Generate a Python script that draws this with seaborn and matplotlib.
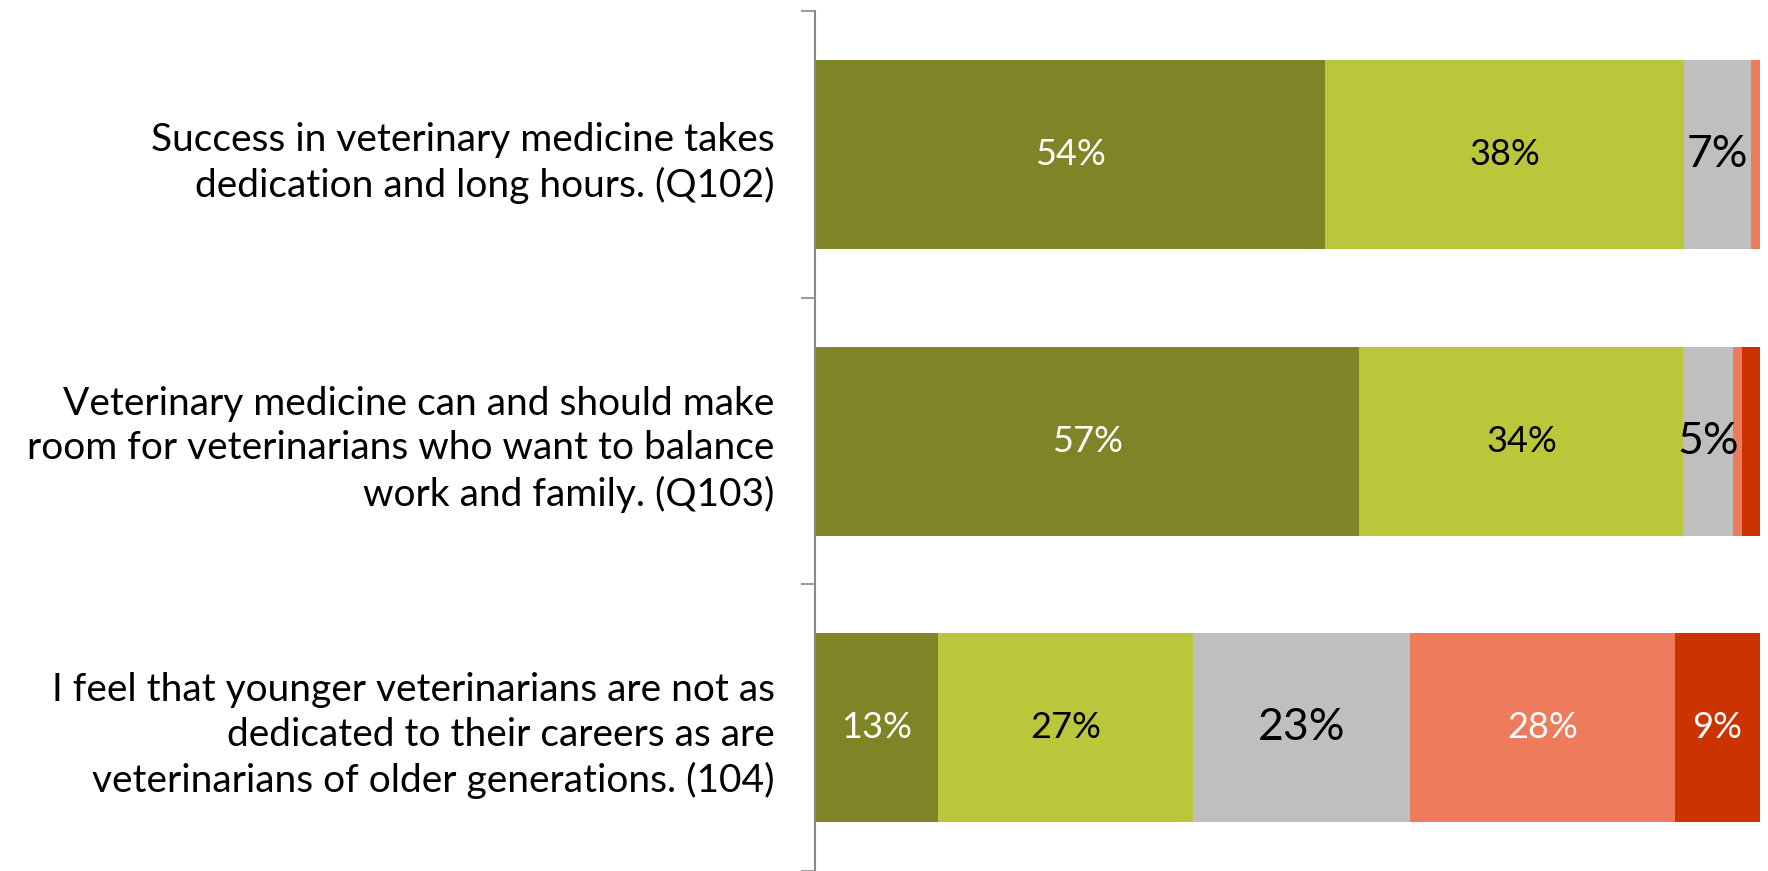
import numpy as np
import pandas as pd
import matplotlib
matplotlib.use("Agg")
import matplotlib.pyplot as plt
import seaborn as sns

# ---------------------------------------------------------------
# data (share of respondents, %)
questions = [
    "Success in veterinary medicine takes\ndedication and long hours. (Q102)",
    "Veterinary medicine can and should make\nroom for veterinarians who want to balance\nwork and family. (Q103)",
    "I feel that younger veterinarians are not as\ndedicated to their careers as are\nveterinarians of older generations. (104)",
]
strongly_agree = [54, 57.6, 13]
agree = [38, 34.3, 27]
neutral = [7, 5.2, 23]
disagree = [1, 1.0, 28]
strongly_disagree = [0, 1.9, 9]

# printed labels (blank where the chart shows none)
labels_sa = ["54%", "57%", "13%"]
labels_a = ["38%", "34%", "27%"]
labels_n = ["7%", "5%", "23%"]
labels_d = ["", "", "28%"]
labels_sd = ["", "", "9%"]

colors = ["#7F8427", "#BBC73A", "#BFBFBF", "#ED7B5C", "#CC3300"]
text_colors = ["white", "black", "black", "white", "white"]
text_sizes = [26, 26, 32, 26, 26]
# ---------------------------------------------------------------

sns.set_theme(style="white")
plt.rcParams["font.family"] = ["Lato", "DejaVu Sans"]

series = [strongly_agree, agree, neutral, disagree, strongly_disagree]
labels = [labels_sa, labels_a, labels_n, labels_d, labels_sd]

cum = np.cumsum(np.array(series), axis=0)
df = pd.DataFrame({"question": questions})

fig = plt.figure(figsize=(17.68, 8.71), dpi=100)
ax = fig.add_axes([0.461, 0.0, 0.5345, 0.987])

# stacked bars: draw cumulative totals from the widest down
for i in range(len(series) - 1, -1, -1):
    df["val"] = cum[i]
    sns.barplot(data=df, x="val", y="question", color=colors[i], width=0.66,
                saturation=1, ax=ax, orient="h", linewidth=0)

for i in range(len(series)):
    for j in range(len(questions)):
        if labels[i][j]:
            ax.text(cum[i][j] - series[i][j] / 2, j, labels[i][j],
                    ha="center", va="center", color=text_colors[i],
                    fontsize=text_sizes[i])

ax.set_xlim(0, 100)
ax.set_ylim(2.5, -0.5)
ax.set_xlabel("")
ax.set_ylabel("")
ax.set_xticks([])
ax.set_yticks([-0.5, 0.5, 1.5, 2.5])
ax.set_yticklabels([])
ax.set_yticks([0, 1, 2], minor=True)
ax.set_yticklabels(questions, minor=True, fontsize=28, ha="right",
                   linespacing=1.3, color="black")
ax.tick_params(axis="y", which="major", length=10, width=1.2, color="#888888",
               left=True)
ax.tick_params(axis="y", which="minor", length=0, pad=29)
for s in ["top", "right", "bottom"]:
    ax.spines[s].set_visible(False)
ax.spines["left"].set_color("#888888")
ax.spines["left"].set_linewidth(1.5)

fig.savefig("out.png", dpi=100)
